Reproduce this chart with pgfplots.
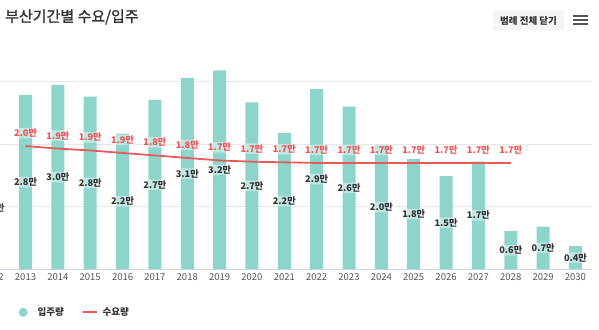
\documentclass[border=0pt]{standalone}
\usepackage{fontspec}
\setmainfont{Noto Sans CJK KR}
\newfontfamily\titlefont[FakeBold=1.2]{Noto Sans CJK KR}
\usepackage{pgfplots}
\usepackage{pgfplotstable}
\pgfplotsset{compat=1.18}

\definecolor{barc}{HTML}{8DD4CB}
\definecolor{linec}{HTML}{E85A5C}
\definecolor{labred}{HTML}{F05457}
\definecolor{txt}{HTML}{333333}
\definecolor{tickc}{HTML}{555555}
\definecolor{gridc}{HTML}{E6E6E6}
\definecolor{axc}{HTML}{CCD6EB}
\definecolor{btnbg}{HTML}{F5F5F5}

\pgfplotstableread{
year v lab
2012 1.97 2.0
2013 2.79 2.8
2014 2.95 3.0
2015 2.76 2.8
2016 2.17 2.2
2017 2.71 2.7
2018 3.06 3.1
2019 3.18 3.2
2020 2.67 2.7
2021 2.18 2.2
2022 2.88 2.9
2023 2.60 2.6
2024 1.99 2.0
2025 1.76 1.8
2026 1.49 1.5
2027 1.72 1.7
2028 0.61 0.6
2029 0.68 0.7
2030 0.37 0.4
}\supply

\pgfplotstableread{
year v lab
2013 1.97 2.0
2014 1.93 1.9
2015 1.90 1.9
2016 1.86 1.9
2017 1.82 1.8
2018 1.78 1.8
2019 1.74 1.7
2020 1.72 1.7
2021 1.71 1.7
2022 1.70 1.7
2023 1.70 1.7
2024 1.70 1.7
2025 1.70 1.7
2026 1.70 1.7
2027 1.70 1.7
2028 1.70 1.7
}\demand

\begin{document}
\begin{tikzpicture}
\begin{axis}[
  at={(-23pt,59.8pt)}, anchor=south west,
  x=32.35pt, y=62.5pt,
  xmin=2011.5, xmax=2030.5, ymin=0, ymax=3.4,
  axis x line*=bottom, axis y line*=left,
  x axis line style={draw=axc, line width=0.8pt},
  y axis line style={draw=none},
  xtick={2012,...,2030}, ytick={1,2,3},
  yticklabels={}, major tick length=0pt,
  ymajorgrids, grid style={draw=gridc, line width=0.8pt},
  /pgf/number format/1000 sep={},
  /pgf/number format/assume math mode=true,
  xticklabel style={font=\fontsize{9.5}{11}\selectfont, text=tickc, yshift=-1pt},
  legend style={at={(axis description cs:0.0675,-0.2028)}, anchor=west, draw=none, fill=none,
    inner sep=0pt, column sep=0pt, legend columns=2,
    font=\fontsize{9.5}{11}\selectfont\bfseries, text=txt,
    nodes={inner sep=0pt},
    /tikz/every odd column/.append style={column sep=5pt},
    /tikz/every even column/.append style={column sep=18pt}},
]
\addplot[ybar, bar width=13pt, fill=barc, draw=none,
  visualization depends on={\thisrow{v}/2 \as \halfv},
  nodes near coords={\pgfmathprintnumber[fixed,fixed zerofill,precision=1]{\pgfplotspointmeta}만},
  point meta=explicit,
  every node near coord/.append style={anchor=center, shift={(axis direction cs:0,-\halfv)},
    font=\fontsize{9.2}{10}\selectfont\bfseries, text=txt, fill=white, fill opacity=0.45, text opacity=1,
    inner sep=1pt, rounded corners=2pt},
  legend image code/.code={\fill[barc] (4.5pt,0pt) circle (4.5pt); \path (0pt,0pt) -- (14pt,0pt);}
] table[x=year, y=v, meta=lab] {\supply};
\addlegendentry{입주량}
\addplot[linec, line width=1.8pt, mark=none,
  nodes near coords={\pgfmathprintnumber[fixed,fixed zerofill,precision=1]{\pgfplotspointmeta}만},
  point meta=explicit,
  every node near coord/.append style={anchor=center, yshift=13pt,
    font=\fontsize{9.2}{10}\selectfont\bfseries, text=labred, fill=white, fill opacity=0.45, text opacity=1,
    inner sep=1pt, rounded corners=2pt},
  legend image code/.code={\draw[linec, line width=1.8pt] (0pt,0pt) -- (14pt,0pt);}
] table[x=year, y=v, meta=lab] {\demand};
\addlegendentry{수요량}
\end{axis}
% title and menu
\node[anchor=west, font=\titlefont\fontsize{15}{17}\selectfont, text=txt, inner sep=0pt] at (5pt,312pt) {부산기간별 수요/입주};
\node[fill=btnbg, rounded corners=1pt, minimum width=71pt, minimum height=20pt, inner sep=0pt,
  font=\fontsize{9.5}{11}\selectfont\bfseries, text=txt] at (528.5pt,308.5pt) {범례 전체 닫기};
\foreach \yy in {313.3,309,304.7} {\draw[color=tickc, line width=2pt] (573pt,\yy pt) -- (588pt,\yy pt);}
\pgfresetboundingbox
\useasboundingbox (0pt,0pt) rectangle (599pt,329pt);
\end{tikzpicture}
\end{document}
